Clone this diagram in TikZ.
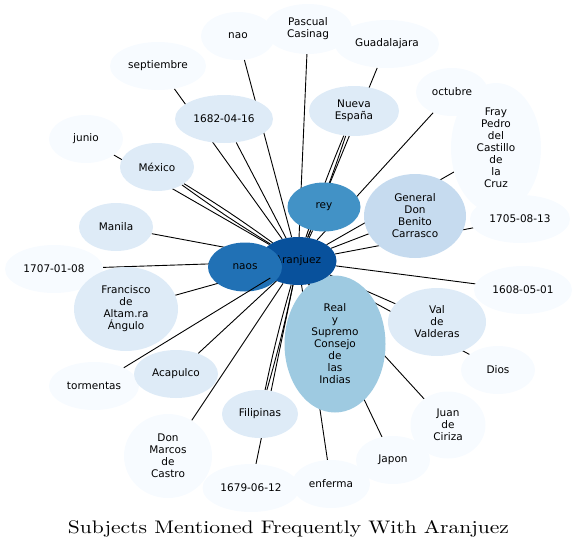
\documentclass[tikz,border=0pt]{standalone}
\usepackage{fontspec}
\usepackage{graphicx}
\usetikzlibrary{shapes.geometric}
\newfontfamily\labelfont{DejaVu Sans}
\definecolor{blue0}{HTML}{F7FBFF}
\definecolor{blue1}{HTML}{DEEBF7}
\definecolor{blue2}{HTML}{C6DBEF}
\definecolor{blue3}{HTML}{9ECAE1}
\definecolor{blue5}{HTML}{4292C6}
\definecolor{blue6}{HTML}{2171B5}
\definecolor{blue7}{HTML}{08519C}
\pgfdeclarelayer{bg}
\pgfsetlayers{bg,main}

\begin{document}
\begin{tikzpicture}[x=1pt, y=-1pt,
  topic/.style={ellipse, inner sep=0pt, align=center, font=\labelfont\fontsize{10.5}{12}\selectfont},
  sz/.style 2 args={minimum width=#1, minimum height=#2},
  link/.style={draw, line width=0.9pt}
]
  \useasboundingbox (0,0) rectangle (577,549);

  % outer ring
  \node[topic, fill=blue0, sz={74}{48}] (nao) at (238,36) {nao};
  \node[topic, fill=blue0, sz={104}{48}] (guadalajara) at (387,44) {Guadalajara};
  \node[topic, fill=blue0, sz={88}{50}] (pascual) at (308,29) {Pascual\\Casinag};
  \node[topic, fill=blue0, sz={96}{48}] (septiembre) at (158,66) {septiembre};
  \node[topic, fill=blue0, sz={90}{130}] (fray) at (496,148) {Fray\\Pedro\\del\\Castillo\\de\\la\\Cruz};
  \node[topic, fill=blue0, sz={72}{48}] (octubre) at (452,92) {octubre};
  \node[topic, fill=blue0, sz={100}{48}] (f1705) at (520,219) {1705-08-13};
  \node[topic, fill=blue0, sz={74}{48}] (junio) at (86,139) {junio};
  \node[topic, fill=blue0, sz={98}{48}] (f1707) at (54,269) {1707-01-08};
  \node[topic, fill=blue0, sz={98}{48}] (f1608) at (523,290) {1608-05-01};
  \node[topic, fill=blue0, sz={74}{48}] (dios) at (498,370) {Dios};
  \node[topic, fill=blue0, sz={90}{48}] (tormentas) at (94,386) {tormentas};
  \node[topic, fill=blue0, sz={75}{67}] (juan) at (448,425) {Juan\\de\\Ciriza};
  \node[topic, fill=blue0, sz={74}{48}] (japon) at (393,460) {Japon};
  \node[topic, fill=blue0, sz={88}{84}] (marcos) at (168,456) {Don\\Marcos\\de\\Castro};
  \node[topic, fill=blue0, sz={97}{48}] (f1679) at (251,488) {1679-06-12};
  \node[topic, fill=blue0, sz={78}{48}] (enferma) at (331,484) {enferma};

  % inner ring
  \node[topic, fill=blue1, sz={90}{50}] (nueva) at (354,111) {Nueva\\España};
  \node[topic, fill=blue1, sz={98}{48}] (f1682) at (224,119) {1682-04-16};
  \node[topic, fill=blue1, sz={74}{48}] (mexico) at (157,167) {México};
  \node[topic, fill=blue1, sz={74}{48}] (manila) at (116,227) {Manila};
  \node[topic, fill=blue1, sz={104}{84}] (francisco) at (126,309) {Francisco\\de\\Altam.ra\\Ángulo};
  \node[topic, fill=blue1, sz={84}{48}] (acapulco) at (176,374) {Acapulco};
  \node[topic, fill=blue1, sz={76}{48}] (filipinas) at (260,414) {Filipinas};
  \node[topic, fill=blue1, sz={98}{68}] (val) at (437,322) {Val\\de\\Valderas};
  \node[topic, fill=blue2, sz={102}{84}] (general) at (415,216) {General\\Don\\Benito\\Carrasco};
  \node[topic, fill=blue3, sz={101}{137}] (real) at (335,344) {Real\\y\\Supremo\\Consejo\\de\\las\\Indias};
  \node[topic, fill=blue5, sz={73}{49}] (rey) at (324,207) {rey};
  \node[topic, fill=blue7, sz={77}{48}] (aranjuez) at (298,261) {Aranjuez};
  \node[topic, fill=blue6, sz={74}{49}] (naos) at (245,267) {naos};

  \begin{pgfonlayer}{bg}
    \foreach \t in {nao, pascual, guadalajara, septiembre, octubre, fray, f1682, junio,
                    rey, general, f1705, manila, naos, f1707, f1608, francisco, real,
                    val, dios, acapulco, juan, japon, marcos, f1679, enferma}
      \draw[link] (aranjuez) -- (\t);
    \foreach \t in {nueva, mexico, filipinas} {
      \draw[link] (aranjuez) to[bend left=2] (\t);
      \draw[link] (aranjuez) to[bend right=2] (\t);
    }
  \end{pgfonlayer}
  \draw[link] (aranjuez) -- (tormentas);

  \node[anchor=base] (title) at (288.5,533)
    {\resizebox{441pt}{13pt}{Subjects Mentioned Frequently With Aranjuez}};
\end{tikzpicture}
\end{document}
